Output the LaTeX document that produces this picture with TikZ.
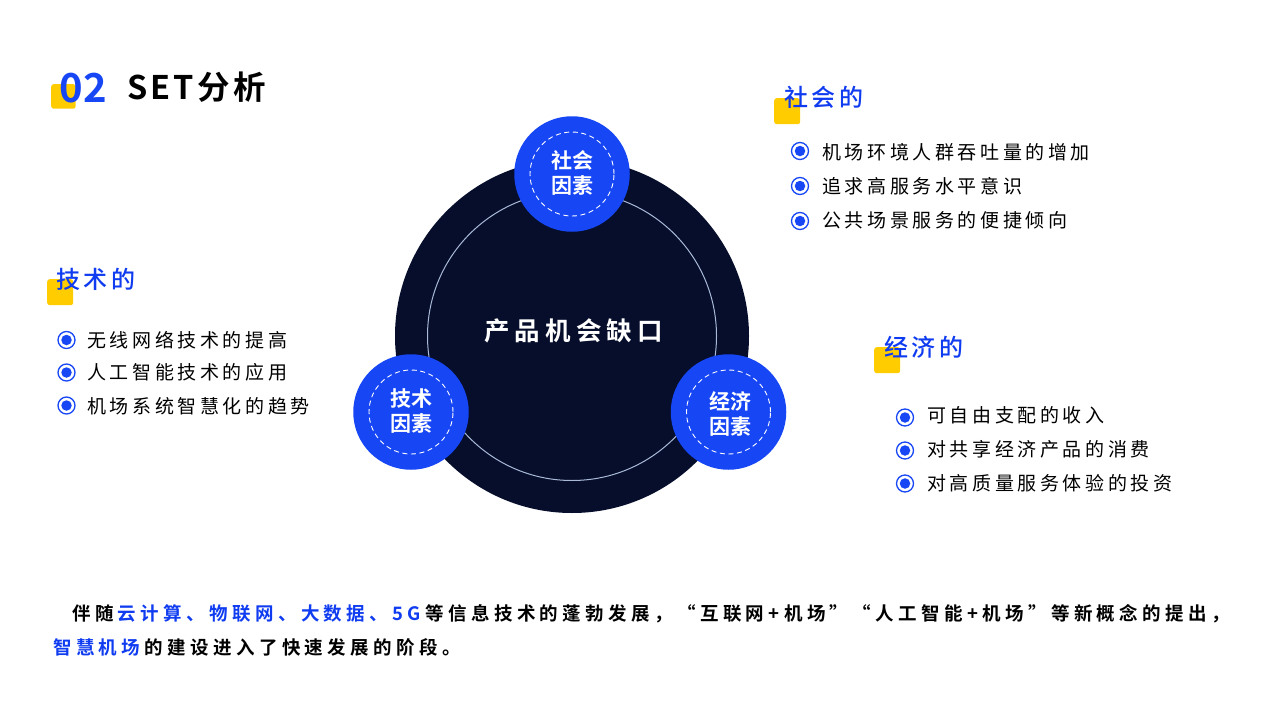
\documentclass[tikz,border=0pt]{standalone}
\usepackage{fontspec}
\setmainfont{Noto Sans CJK SC}
\newfontfamily\cjk{Noto Sans CJK SC}
\newfontfamily\cjkm{Noto Sans CJK SC Medium}
\newfontfamily\cjkb{Noto Sans CJK SC Bold}
\definecolor{bluemain}{HTML}{1746F5}
\definecolor{navy}{HTML}{060E2B}
\definecolor{ringc}{HTML}{A9BAD8}
\definecolor{yel}{HTML}{FFCC00}
\definecolor{headblue}{HTML}{0F3CF0}
\newcommand{\ls}[3]{{\fontsize{#1}{#1}\selectfont\addfontfeature{LetterSpace=#2}#3}}
\newcommand{\gp}{\kern4.4pt\relax}
\tikzset{
  x=1pt,y=-1pt,
  yelsq/.style={fill=yel,rounded corners=2.5pt,draw=none,minimum size=26pt,inner sep=0pt,anchor=north west},
  head/.style={anchor=west,inner sep=0pt,text=headblue,font=\cjkm},
  item/.style={anchor=west,inner sep=0pt,text=black,font=\cjk},
  dotin/.style={circle,fill=bluemain,minimum size=10.5pt,inner sep=0pt},
  dotout/.style={circle,draw=bluemain,line width=1.3pt,minimum size=17pt,inner sep=0pt},
  factor/.style={circle,fill=bluemain,minimum size=115.5pt,inner sep=0pt},
  factordash/.style={circle,draw=white,line width=0.9pt,dash pattern=on 5pt off 3.6pt,minimum size=84pt,inner sep=0pt},
  ftext/.style={align=center,text=white,font=\cjkb\fontsize{21}{25}\selectfont,inner sep=0pt},
  boldline/.style={anchor=west,inner sep=0pt,font=\cjkb}
}
\newcommand{\bul}[3]{\node[dotin] (#1i) at (#2,#3) {}; \node[dotout] (#1o) at (#2,#3) {};}
\begin{document}
\begin{tikzpicture}
\useasboundingbox (0,0) rectangle (1280,720);
% title
\node[yelsq,minimum size=24.5pt] (tsq) at (51,84) {};
\node[anchor=west,inner sep=0pt,text=bluemain,font=\cjkb] (tnum) at (59.5,88) {\fontsize{40}{40}\selectfont 02};
\node[boldline] (ttext) at (127,87) {\ls{32.5}{10}{SET分析}};
% core
\node[circle,fill=navy,minimum size=354pt,inner sep=0pt] (core) at (572,336) {};
\node[circle,draw=ringc,line width=1pt,minimum size=289pt,inner sep=0pt] (ring) at (572,336) {};
\node[boldline,anchor=center,text=white] (coret) at (573.5,330.5) {\ls{25.5}{20}{产品机会缺口}};
% factors
\node[factor] (fa) at (572,174) {};
\node[factordash] (fad) at (572,174) {};
\node[ftext] (fat) at (572,172.5) {社会\\因素};
\node[factor] (fb) at (411,412) {};
\node[factordash] (fbd) at (411,412) {};
\node[ftext] (fbt) at (411,411) {技术\\因素};
\node[factor] (fc) at (728.5,412) {};
\node[factordash] (fcd) at (728.5,412) {};
\node[ftext] (fct) at (730,414) {经济\\因素};
% social
\node[yelsq] (s1) at (774,98) {};
\node[head] (sh) at (784,97.5) {\ls{24}{15}{社会的}};
\bul{sa}{800}{151}
\bul{sb}{800}{186}
\bul{sc}{800}{221}
\node[item] (sa) at (822,152.5) {\ls{19}{19}{机场环境人群吞吐量的增加}};
\node[item] (sb) at (822,186.5) {\ls{19}{19}{追求高服务水平意识}};
\node[item] (sc) at (822,220.5) {\ls{19}{19}{公共场景服务的便捷倾向}};
% tech
\node[yelsq] (t1) at (47,279) {};
\node[head] (th) at (56,279.5) {\ls{24}{15}{技术的}};
\bul{ta}{66.5}{340}
\bul{tb}{66.5}{372.5}
\bul{tc}{66.5}{405.5}
\node[item] (ta) at (87,340.5) {\ls{19}{19}{无线网络技术的提高}};
\node[item] (tb) at (87,372.5) {\ls{19}{19}{人工智能技术的应用}};
\node[item] (tc) at (87,406.5) {\ls{19}{19}{机场系统智慧化的趋势}};
% economy
\node[yelsq] (e1) at (874,347) {};
\node[head] (eh) at (884,347.5) {\ls{24}{15}{经济的}};
\bul{ea}{905}{417.5}
\bul{eb}{905}{450.5}
\bul{ec}{905}{483.5}
\node[item] (ea) at (927,415.5) {\ls{19}{19}{可自由支配的收入}};
\node[item] (eb) at (927,449.5) {\ls{19}{19}{对共享经济产品的消费}};
\node[item] (ec) at (927,483.5) {\ls{19}{19}{对高质量服务体验的投资}};
% bottom
\node[boldline] (b1) at (72,613.5) {\ls{18.5}{23.7}{伴随\gp\textcolor{headblue}{云计算、物联网、大数据、5G}\gp 等信息技术的蓬勃发展，“互联网+机场”“人工智能+机场”等新概念的提出，}};
\node[boldline] (b2) at (53,647.5) {\ls{18.5}{23.7}{\textcolor{headblue}{智慧机场}\gp 的建设进入了快速发展的阶段。}};
\end{tikzpicture}
\end{document}
